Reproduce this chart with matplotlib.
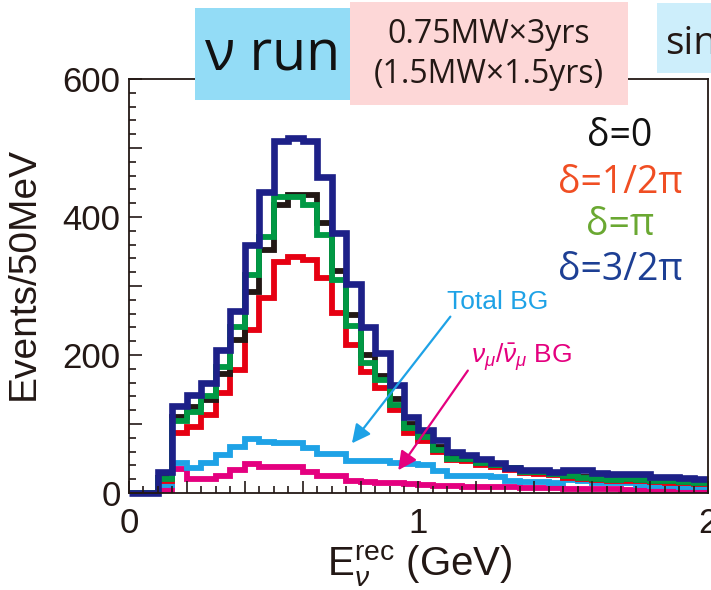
import numpy as np
from matplotlib import pyplot as plt
from matplotlib.patches import Rectangle

plt.rcParams['mathtext.fontset'] = 'custom'
plt.rcParams['mathtext.rm'] = 'Liberation Sans'
plt.rcParams['mathtext.it'] = 'Liberation Sans:italic'

# Бины по энергии: 40 бинов по 50 МэВ от 0 до 2 ГэВ
edges = np.linspace(0, 2, 41)

# Число событий в каждом бине
delta_0 = [0, 0, 22, 110, 125, 135, 172, 222, 292, 352, 417, 432, 432, 392, 322, 258, 200, 170, 136, 100,
           84, 66, 53, 50, 45, 40, 36, 32, 30, 28, 25, 23, 21, 20, 20, 19, 18, 17, 16, 15]
delta_half_pi = [0, 0, 17, 87, 96, 113, 145, 178, 236, 283, 335, 342, 338, 312, 261, 214, 175, 152, 120, 87,
                 76, 60, 48, 46, 40, 37, 33, 29, 28, 26, 22, 20, 19, 18, 18, 17, 16, 15, 14, 13]
delta_pi = [0, 0, 20, 105, 118, 140, 183, 240, 316, 371, 429, 429, 417, 374, 309, 242, 188, 164, 128, 94,
            81, 62, 50, 50, 43, 40, 36, 31, 31, 28, 24, 22, 21, 19, 20, 19, 18, 17, 16, 15]
delta_3half_pi = [0, 0, 30, 126, 142, 160, 207, 264, 360, 436, 510, 514, 510, 458, 377, 303, 241, 203, 157, 110,
                  92, 77, 60, 55, 50, 43, 36, 34, 33, 31, 33, 34, 29, 28, 28, 27, 23, 23, 22, 20]
total_bg = [0, 0, 12, 44, 36, 43, 55, 67, 78, 74, 73, 73, 65, 56, 56, 46, 46, 46, 43, 42,
            40, 32, 25, 24, 24, 23, 17, 16, 16, 15, 19, 17, 15, 14, 14, 11, 10, 10, 9, 9]
numu_bg = [0, 0, 5, 35, 21, 21, 25, 34, 42, 38, 37, 37, 30, 24, 24, 17, 16, 14, 14, 13,
           11, 10, 10, 9, 8, 8, 8, 7, 7, 7, 6, 6, 6, 6, 5, 5, 5, 5, 5, 5]

fig = plt.figure(figsize=(7.11, 5.90), dpi=100)
ax = fig.add_axes([0.1814, 0.1644, 0.8144, 0.7017])

ax.stairs(numu_bg, edges, color='#e4007f', lw=4.2, baseline=None)
ax.stairs(total_bg, edges, color='#1ea2e6', lw=4.2, baseline=None)
ax.stairs(delta_half_pi, edges, color='#e60012', lw=4.2, baseline=None)
ax.stairs(delta_0, edges, color='#231815', lw=4.2, baseline=None)
ax.stairs(delta_pi, edges, color='#009944', lw=4.2, baseline=None)
ax.stairs(delta_3half_pi, edges, color='#1d2088', lw=4.8, baseline=None, clip_on=False)

ax.set_xlim(0, 2)
ax.set_ylim(0, 600)
ax.set_xticks(np.arange(0, 2.01, 0.2))
ax.set_xticklabels(['0', '', '', '', '', '1', '', '', '', '', '2'])
ax.set_xticks(np.arange(0, 2.01, 0.05), minor=True)
ax.set_yticks(np.arange(0, 601, 100))
ax.set_yticklabels(['0', '', '200', '', '400', '', '600'])
ax.set_yticks(np.arange(0, 601, 20), minor=True)
ax.tick_params(which='both', direction='in', color='#231815', width=1.2,
               labelsize=25, labelcolor='#231815')
ax.tick_params(which='major', length=9)
ax.tick_params(which='minor', length=5)
ax.tick_params(axis='x', pad=10)
ax.tick_params(axis='y', pad=6)
for s in ax.spines.values():
    s.set_color('#231815')
    s.set_linewidth(1.3)
for lab in ax.get_xticklabels() + ax.get_yticklabels():
    lab.set_family('Liberation Sans')

ax.set_ylabel('Events/50MeV', fontsize=28, family='Liberation Sans', color='#231815')
ax.yaxis.set_label_coords(-0.15, 0.53)
ax.set_xlabel(r'E$_{\nu}^{\mathrm{rec}}$ (GeV)', fontsize=29, family='Liberation Sans',
              color='#231815')
ax.xaxis.set_label_coords(0.503, -0.122)

# Подписи значений delta
gill = ['Open Sans', 'DejaVu Sans']
ax.text(1.696, 517, 'δ=0', color='#111111', fontsize=27, family=gill, ha='center', va='center')
ax.text(1.696, 449, 'δ=1/2π', color='#f04e23', fontsize=27, family=gill, ha='center', va='center')
ax.text(1.696, 388, 'δ=π', color='#6aa832', fontsize=27, family=gill, ha='center', va='center')
ax.text(1.696, 323, 'δ=3/2π', color='#1d3f94', fontsize=27, family=gill, ha='center', va='center')

# Фоны со стрелками
ax.annotate('Total BG', xy=(0.77, 72), xytext=(1.10, 277), color='#1ea2e6', fontsize=19,
            family='Liberation Sans', va='center',
            arrowprops=dict(arrowstyle='-|>', color='#1ea2e6', lw=1.6, mutation_scale=28,
                            shrinkA=0, shrinkB=0, relpos=(0.05, 0)))
ax.annotate(r'$\nu_\mu/\bar{\nu}_\mu$ BG', xy=(0.93, 33), xytext=(1.18, 197), color='#e4007f',
            fontsize=19, family='Liberation Sans', va='center',
            arrowprops=dict(arrowstyle='-|>', color='#e4007f', lw=1.6, mutation_scale=28,
                            shrinkA=0, shrinkB=0, relpos=(0.0, 0.2)))

# Плашки сверху (поверх рамки графика)
fig.patches.append(Rectangle((0.2743, 0.8305), 0.218, 0.156, transform=fig.transFigure,
                             fc='#93dcf6', ec='none', zorder=2))
fig.patches.append(Rectangle((0.4923, 0.822), 0.391, 0.1746, transform=fig.transFigure,
                             fc='#fdd7d7', ec='none', zorder=2))
fig.patches.append(Rectangle((0.924, 0.876), 0.076, 0.1186, transform=fig.transFigure,
                             fc='#cdeefb', ec='none', zorder=2))
fig.text(0.383, 0.905, 'ν run', fontsize=40, family=gill, color='#111111',
         ha='center', va='center', zorder=3)
fig.text(0.688, 0.9407, '0.75MW×3yrs', fontsize=23, family=gill, color='#231815',
         ha='center', va='center', zorder=3)
fig.text(0.688, 0.8729, '(1.5MW×1.5yrs)', fontsize=23, family=gill, color='#231815',
         ha='center', va='center', zorder=3)
fig.text(0.9353, 0.9254, 'sin', fontsize=28, family=gill, color='#231815',
         ha='left', va='center', zorder=3)

fig.savefig('out.png', dpi=100)
